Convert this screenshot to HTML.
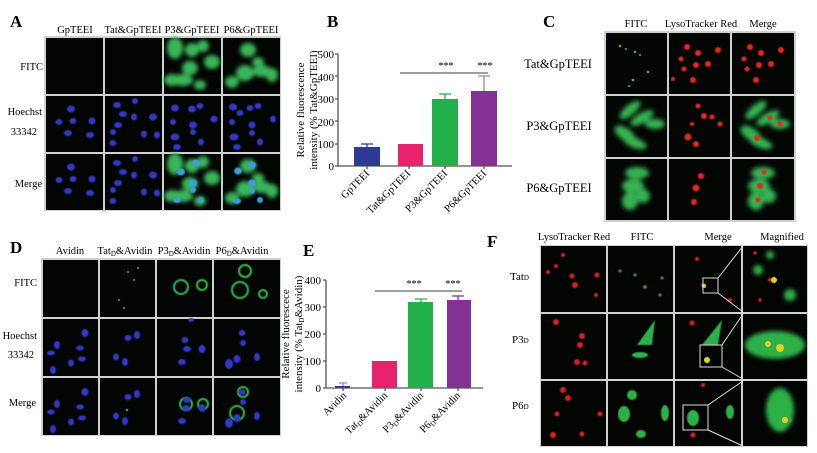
<!DOCTYPE html>
<html><head><meta charset="utf-8"><style>
html,body{margin:0;padding:0;background:#fff;}
svg{display:block;font-family:"Liberation Serif",serif;}
</style></head><body>
<svg width="817" height="453" viewBox="0 0 817 453" xmlns="http://www.w3.org/2000/svg">
<defs>
<filter id="b1" x="-30%" y="-30%" width="160%" height="160%"><feGaussianBlur stdDeviation="2"/></filter>
<filter id="b2" x="-30%" y="-30%" width="160%" height="160%"><feGaussianBlur stdDeviation="2.5"/></filter>
<filter id="b0" x="-20%" y="-20%" width="140%" height="140%"><feGaussianBlur stdDeviation="0.6"/></filter>
</defs>
<rect width="817" height="453" fill="#fff"/>

<!-- ===== Panel A ===== -->
<text x="10" y="27" font-size="17" font-weight="bold">A</text>
<g font-size="10.5" text-anchor="middle">
<text x="75" y="33">GpTEEI</text><text x="133" y="33">Tat&amp;GpTEEI</text>
<text x="192" y="33">P3&amp;GpTEEI</text><text x="251" y="33">P6&amp;GpTEEI</text>
</g>
<g font-size="10.5" text-anchor="end">
<text x="43" y="70">FITC</text><text x="42" y="115">Hoechst</text><text x="37" y="135">33342</text>
<text x="42" y="187">Merge</text>
</g>
<rect x="44" y="36" width="237" height="175" fill="#d0d0d0"/>
<g fill="#020502">
<rect x="46" y="38" width="57" height="56"/><rect x="105" y="38" width="57" height="56"/><rect x="164" y="38" width="57" height="56"/><rect x="223" y="38" width="57" height="56"/>
<rect x="46" y="96" width="57" height="56"/><rect x="105" y="96" width="57" height="56"/><rect x="164" y="96" width="57" height="56"/><rect x="223" y="96" width="57" height="56"/>
<rect x="46" y="154" width="57" height="56"/><rect x="105" y="154" width="57" height="56"/><rect x="164" y="154" width="57" height="56"/><rect x="223" y="154" width="57" height="56"/>
</g>
<g fill="#3bb55a" filter="url(#b1)">
<ellipse cx="175" cy="48" rx="8" ry="11"/><ellipse cx="192" cy="50" rx="7" ry="7"/><ellipse cx="203" cy="46" rx="6" ry="6"/>
<ellipse cx="212" cy="62" rx="8" ry="7"/><ellipse cx="190" cy="68" rx="8" ry="7"/><ellipse cx="183" cy="80" rx="10" ry="6"/><ellipse cx="172" cy="80" rx="8" ry="6"/><ellipse cx="200" cy="85" rx="6" ry="5"/>
<ellipse cx="248" cy="50" rx="8" ry="7"/><ellipse cx="258" cy="62" rx="6" ry="5"/><ellipse cx="262" cy="71" rx="9" ry="6"/><ellipse cx="245" cy="73" rx="9" ry="8"/><ellipse cx="232" cy="82" rx="7" ry="6"/><ellipse cx="272" cy="75" rx="6" ry="7"/>
<ellipse cx="175" cy="164" rx="8" ry="11"/><ellipse cx="192" cy="166" rx="7" ry="7"/><ellipse cx="203" cy="162" rx="6" ry="6"/>
<ellipse cx="212" cy="178" rx="8" ry="7"/><ellipse cx="190" cy="184" rx="8" ry="7"/><ellipse cx="183" cy="196" rx="10" ry="6"/><ellipse cx="172" cy="196" rx="8" ry="6"/><ellipse cx="200" cy="201" rx="6" ry="5"/>
<ellipse cx="248" cy="166" rx="8" ry="7"/><ellipse cx="258" cy="178" rx="6" ry="5"/><ellipse cx="262" cy="187" rx="9" ry="6"/><ellipse cx="245" cy="189" rx="9" ry="8"/><ellipse cx="232" cy="198" rx="7" ry="6"/><ellipse cx="272" cy="191" rx="6" ry="7"/>
</g>
<g fill="#3238c8" filter="url(#b0)">
<ellipse cx="71" cy="109" rx="4" ry="3.5"/><ellipse cx="59" cy="122" rx="3.5" ry="3"/><ellipse cx="73" cy="121" rx="3.5" ry="3"/><ellipse cx="68" cy="133" rx="4" ry="3"/><ellipse cx="92" cy="121" rx="3.5" ry="3.5"/><ellipse cx="90" cy="135" rx="4" ry="3"/>
<ellipse cx="117" cy="105" rx="4" ry="3"/><ellipse cx="123" cy="114" rx="4" ry="3"/><ellipse cx="135" cy="101" rx="3" ry="3"/><ellipse cx="134" cy="117" rx="3" ry="3.5"/><ellipse cx="118" cy="125" rx="4" ry="3"/><ellipse cx="113" cy="132" rx="3" ry="3"/><ellipse cx="113" cy="143" rx="3.5" ry="3"/><ellipse cx="153" cy="117" rx="4" ry="3.5"/><ellipse cx="144" cy="134" rx="3" ry="3.5"/><ellipse cx="157" cy="135" rx="3" ry="3.5"/>
<ellipse cx="175" cy="108" rx="4" ry="3.5"/><ellipse cx="192" cy="109" rx="4" ry="3.5"/><ellipse cx="200" cy="106" rx="3.5" ry="3"/><ellipse cx="173" cy="122" rx="3" ry="3"/><ellipse cx="193" cy="125" rx="4" ry="3.5"/><ellipse cx="193" cy="132" rx="3" ry="3"/><ellipse cx="214" cy="119" rx="3.5" ry="3.5"/><ellipse cx="175" cy="137" rx="4.5" ry="3.5"/><ellipse cx="201" cy="142" rx="3" ry="3.5"/><ellipse cx="177" cy="147" rx="4" ry="3"/>
<ellipse cx="233" cy="107" rx="4" ry="3.5"/><ellipse cx="240" cy="113" rx="3.5" ry="3"/><ellipse cx="250" cy="108" rx="3.5" ry="3"/><ellipse cx="258" cy="106" rx="3.5" ry="3"/><ellipse cx="232" cy="122" rx="3" ry="3"/><ellipse cx="252" cy="125" rx="3.5" ry="3.5"/><ellipse cx="252" cy="133" rx="3" ry="3"/><ellipse cx="273" cy="119" rx="3" ry="3.5"/><ellipse cx="234" cy="137" rx="4.5" ry="3.5"/><ellipse cx="260" cy="142" rx="3" ry="3.5"/><ellipse cx="237" cy="147" rx="4" ry="3"/>
<ellipse cx="71" cy="167" rx="4" ry="3.5"/><ellipse cx="59" cy="180" rx="3.5" ry="3"/><ellipse cx="73" cy="179" rx="3.5" ry="3"/><ellipse cx="68" cy="191" rx="4" ry="3"/><ellipse cx="92" cy="179" rx="3.5" ry="3.5"/><ellipse cx="90" cy="193" rx="4" ry="3"/>
<ellipse cx="117" cy="163" rx="4" ry="3"/><ellipse cx="123" cy="172" rx="4" ry="3"/><ellipse cx="135" cy="159" rx="3" ry="3"/><ellipse cx="134" cy="175" rx="3" ry="3.5"/><ellipse cx="118" cy="183" rx="4" ry="3"/><ellipse cx="113" cy="190" rx="3" ry="3"/><ellipse cx="113" cy="201" rx="3.5" ry="3"/><ellipse cx="153" cy="175" rx="4" ry="3.5"/><ellipse cx="144" cy="192" rx="3" ry="3.5"/><ellipse cx="157" cy="193" rx="3" ry="3.5"/>
</g>
<g fill="#3a9ed8" filter="url(#b0)">
<ellipse cx="181" cy="172" rx="4" ry="3.5"/><ellipse cx="196" cy="163" rx="4" ry="3.5"/><ellipse cx="193" cy="183" rx="4" ry="3.5"/><ellipse cx="193" cy="190" rx="3" ry="3"/><ellipse cx="177" cy="200" rx="4" ry="3"/><ellipse cx="201" cy="200" rx="3" ry="3"/>
<ellipse cx="238" cy="171" rx="4" ry="3.5"/><ellipse cx="252" cy="165" rx="4" ry="3.5"/><ellipse cx="252" cy="183" rx="4" ry="3.5"/><ellipse cx="252" cy="191" rx="3" ry="3"/><ellipse cx="237" cy="201" rx="4" ry="3"/><ellipse cx="260" cy="200" rx="3" ry="3"/>
</g>

<!-- ===== Panel B ===== -->
<text x="327" y="27" font-size="17" font-weight="bold">B</text>
<g font-size="11" text-anchor="middle">
<text transform="translate(304,110) rotate(-90)">Relative fluorescence</text>
<text transform="translate(317,110) rotate(-90)">intensity (% Tat&amp;GpTEEI)</text>
</g>
<g font-size="11" text-anchor="end">
<text x="334" y="58">500</text><text x="334" y="81">400</text><text x="334" y="103">300</text>
<text x="334" y="126">200</text><text x="334" y="148">100</text><text x="334" y="170">0</text>
</g>
<g stroke="#555" stroke-width="1.3" fill="none">
<path d="M338 54V166H512"/>
<path d="M335 54H338M335 76H338M335 99H338M335 121H338M335 144H338M335 166H338"/>
<path d="M367 166v3M409 166v3M445 166v3M484 166v3"/>
</g>
<rect x="354" y="147" width="26" height="19" fill="#2e3b96"/>
<rect x="398" y="144" width="25" height="22" fill="#e8226c"/>
<rect x="432" y="99" width="26" height="67" fill="#22b04a"/>
<rect x="471" y="91" width="26" height="75" fill="#843196"/>
<g stroke-width="1.3" fill="none">
<path d="M367 147V144M361 144H373" stroke="#2e3b96"/>
<path d="M445 99V94M439 94H451" stroke="#22b04a"/>
<path d="M484 91V76M478 76H490" stroke="#b07abd"/>
</g>
<path d="M400 73H488" stroke="#666" stroke-width="1.3"/>
<g font-size="10" text-anchor="middle"><text x="446" y="69">***</text><text x="485" y="69">***</text></g>
<g font-size="10.5" text-anchor="end">
<text transform="translate(370,174) rotate(-45)">GpTEEI</text>
<text transform="translate(411,174) rotate(-45)">Tat&amp;GpTEEI</text>
<text transform="translate(448,174) rotate(-45)">P3&amp;GpTEEI</text>
<text transform="translate(487,174) rotate(-45)">P6&amp;GpTEEI</text>
</g>

<!-- ===== Panel C ===== -->
<text x="543" y="27" font-size="17" font-weight="bold">C</text>
<g font-size="10.5" text-anchor="middle">
<text x="636" y="27">FITC</text><text x="701" y="27">LysoTracker Red</text><text x="763" y="27">Merge</text>
</g>
<g font-size="12.5" text-anchor="middle">
<text x="558" y="68">Tat&amp;GpTEEI</text><text x="559" y="130">P3&amp;GpTEEI</text><text x="559" y="192">P6&amp;GpTEEI</text>
</g>
<rect x="604" y="31" width="192" height="191" fill="#d0d0d0"/>
<g fill="#030603">
<rect x="606" y="33" width="61" height="61"/><rect x="669" y="33" width="61" height="61"/><rect x="732" y="33" width="62" height="61"/>
<rect x="606" y="96" width="61" height="61"/><rect x="669" y="96" width="61" height="61"/><rect x="732" y="96" width="62" height="61"/>
<rect x="606" y="159" width="61" height="61"/><rect x="669" y="159" width="61" height="61"/><rect x="732" y="159" width="62" height="61"/>
</g>
<g fill="#36b352" filter="url(#b2)">
<ellipse cx="630" cy="110" rx="13" ry="5" transform="rotate(-40 630 110)"/><ellipse cx="642" cy="118" rx="13" ry="5" transform="rotate(-30 642 118)"/><ellipse cx="655" cy="124" rx="10" ry="5"/><ellipse cx="625" cy="134" rx="12" ry="6" transform="rotate(35 625 134)"/><ellipse cx="635" cy="143" rx="12" ry="5" transform="rotate(20 635 143)"/>
<ellipse cx="637" cy="173" rx="12" ry="6"/><ellipse cx="633" cy="186" rx="11" ry="7"/><ellipse cx="630" cy="201" rx="8" ry="9"/><ellipse cx="643" cy="196" rx="7" ry="7"/>
<ellipse cx="756" cy="110" rx="13" ry="5" transform="rotate(-40 756 110)"/><ellipse cx="768" cy="118" rx="13" ry="5" transform="rotate(-30 768 118)"/><ellipse cx="780" cy="124" rx="10" ry="5"/><ellipse cx="751" cy="134" rx="12" ry="6" transform="rotate(35 751 134)"/><ellipse cx="761" cy="143" rx="12" ry="5" transform="rotate(20 761 143)"/>
<ellipse cx="763" cy="173" rx="12" ry="6"/><ellipse cx="759" cy="186" rx="11" ry="7"/><ellipse cx="756" cy="201" rx="8" ry="9"/><ellipse cx="769" cy="196" rx="7" ry="7"/>
</g>
<g fill="#2fd040">
<circle cx="620" cy="46" r="1.2"/><circle cx="626" cy="49" r="1"/><circle cx="635" cy="52" r="1.2"/><circle cx="648" cy="72" r="1.2"/><circle cx="633" cy="80" r="1.3"/><circle cx="629" cy="86" r="1"/><circle cx="640" cy="55" r="1"/>
</g>
<g fill="#e8261e" filter="url(#b0)">
<circle cx="687" cy="47" r="3"/><circle cx="698" cy="53" r="3"/><circle cx="718" cy="50" r="3"/><circle cx="681" cy="59" r="2.5"/><circle cx="696" cy="65" r="3"/><circle cx="708" cy="64" r="3"/><circle cx="684" cy="69" r="2.5"/><circle cx="693" cy="80" r="3"/><circle cx="673" cy="79" r="2"/>
<circle cx="698" cy="106" r="2.5"/><circle cx="704" cy="116" r="3"/><circle cx="712" cy="117" r="2.5"/><circle cx="720" cy="124" r="2.5"/><circle cx="688" cy="137" r="3.5"/><circle cx="696" cy="144" r="3"/><circle cx="692" cy="124" r="2"/>
<circle cx="701" cy="176" r="3"/><circle cx="696" cy="188" r="3.5"/><circle cx="694" cy="202" r="3"/>
<circle cx="750" cy="47" r="3"/><circle cx="761" cy="53" r="3"/><circle cx="781" cy="50" r="3"/><circle cx="744" cy="59" r="2.5"/><circle cx="759" cy="65" r="3"/><circle cx="771" cy="64" r="3"/><circle cx="747" cy="69" r="2.5"/><circle cx="756" cy="80" r="3"/>
<circle cx="770" cy="118" r="2.5"/><circle cx="780" cy="124" r="2.5"/><circle cx="757" cy="138" r="3"/><circle cx="764" cy="172" r="2.5"/><circle cx="760" cy="186" r="3"/><circle cx="758" cy="200" r="2.5"/>
</g>

<!-- ===== Panel D ===== -->
<text x="10" y="253" font-size="17" font-weight="bold">D</text>
<g font-size="10.5" text-anchor="middle">
<text x="70" y="254">Avidin</text><text x="125" y="254">Tat<tspan font-size="7" dy="2">D</tspan><tspan dy="-2">&amp;Avidin</tspan></text>
<text x="184" y="254">P3<tspan font-size="7" dy="2">D</tspan><tspan dy="-2">&amp;Avidin</tspan></text>
<text x="242" y="254">P6<tspan font-size="7" dy="2">D</tspan><tspan dy="-2">&amp;Avidin</tspan></text>
</g>
<g font-size="10.5" text-anchor="end">
<text x="37" y="286">FITC</text><text x="37" y="339">Hoechst</text><text x="34" y="358">33342</text><text x="36" y="406">Merge</text>
</g>
<rect x="41" y="258" width="240" height="178" fill="#d0d0d0"/>
<g fill="#020503">
<rect x="43" y="260" width="55" height="57"/><rect x="100" y="260" width="55" height="57"/><rect x="157" y="260" width="55" height="57"/><rect x="214" y="260" width="66" height="57"/>
<rect x="43" y="319" width="55" height="57"/><rect x="100" y="319" width="55" height="57"/><rect x="157" y="319" width="55" height="57"/><rect x="214" y="319" width="66" height="57"/>
<rect x="43" y="378" width="55" height="57"/><rect x="100" y="378" width="55" height="57"/><rect x="157" y="378" width="55" height="57"/><rect x="214" y="378" width="66" height="57"/>
</g>
<g fill="none" stroke="#2fc04a" stroke-width="2" filter="url(#b0)">
<circle cx="181" cy="287" r="7"/><circle cx="202" cy="285" r="5"/><circle cx="240" cy="290" r="8"/><circle cx="245" cy="271" r="6"/><circle cx="263" cy="294" r="4"/>
<circle cx="186" cy="404" r="6"/><circle cx="203" cy="404" r="5"/><circle cx="237" cy="413" r="7"/><circle cx="243" cy="392" r="5"/>
</g>
<g fill="#2fc04a"><circle cx="128" cy="272" r="1"/><circle cx="134" cy="280" r="1"/><circle cx="138" cy="268" r="1"/><circle cx="119" cy="300" r="1"/><circle cx="124" cy="308" r="1"/><circle cx="136" cy="394" r="1.2"/><circle cx="127" cy="410" r="1.2"/></g>
<g fill="#3238c8" filter="url(#b0)">
<ellipse cx="85" cy="333" rx="3.5" ry="4"/><ellipse cx="57" cy="345" rx="3" ry="4"/><ellipse cx="80" cy="348" rx="4" ry="2.5"/><ellipse cx="51" cy="353" rx="4" ry="2.5"/><ellipse cx="82" cy="359" rx="4" ry="2.5"/><ellipse cx="71" cy="363" rx="3" ry="3.5"/><ellipse cx="53" cy="370" rx="3" ry="4"/>
<ellipse cx="128" cy="338" rx="3.5" ry="3"/><ellipse cx="137" cy="335" rx="3" ry="4"/><ellipse cx="116" cy="357" rx="3" ry="3.5"/><ellipse cx="125" cy="362" rx="3" ry="4"/>
<ellipse cx="191" cy="320" rx="3" ry="2"/><ellipse cx="185" cy="340" rx="3.5" ry="3"/><ellipse cx="187" cy="349" rx="4" ry="3"/><ellipse cx="202" cy="349" rx="3.5" ry="4"/><ellipse cx="182" cy="362" rx="4" ry="3"/>
<ellipse cx="242" cy="333" rx="3.5" ry="3"/><ellipse cx="243" cy="343" rx="3" ry="3"/><ellipse cx="237" cy="359" rx="3.5" ry="4"/><ellipse cx="229" cy="364" rx="4" ry="5"/><ellipse cx="257" cy="357" rx="3" ry="4"/>
<ellipse cx="85" cy="392" rx="3.5" ry="4"/><ellipse cx="57" cy="404" rx="3" ry="4"/><ellipse cx="80" cy="407" rx="4" ry="2.5"/><ellipse cx="51" cy="412" rx="4" ry="2.5"/><ellipse cx="82" cy="418" rx="4" ry="2.5"/><ellipse cx="71" cy="422" rx="3" ry="3.5"/><ellipse cx="53" cy="429" rx="3" ry="4"/>
<ellipse cx="128" cy="397" rx="3.5" ry="3"/><ellipse cx="137" cy="394" rx="3" ry="4"/><ellipse cx="116" cy="416" rx="3" ry="3.5"/><ellipse cx="125" cy="421" rx="3" ry="4"/>
<ellipse cx="187" cy="400" rx="4" ry="3"/><ellipse cx="186" cy="408" rx="4" ry="3"/><ellipse cx="202" cy="408" rx="3.5" ry="4"/><ellipse cx="182" cy="421" rx="4" ry="3"/>
<ellipse cx="242" cy="392" rx="3.5" ry="3"/><ellipse cx="243" cy="402" rx="3" ry="3"/><ellipse cx="237" cy="418" rx="3.5" ry="4"/><ellipse cx="229" cy="423" rx="4" ry="5"/><ellipse cx="257" cy="416" rx="3" ry="4"/>
</g>

<!-- ===== Panel E ===== -->
<text x="303" y="256" font-size="17" font-weight="bold">E</text>
<g font-size="11" text-anchor="middle">
<text transform="translate(289,334) rotate(-90)">Relative fluorescece</text>
<text transform="translate(302,334) rotate(-90)">intensity (% Tat<tspan font-size="7" dy="2">D</tspan><tspan dy="-2">&amp;Avidin)</tspan></text>
</g>
<g font-size="11" text-anchor="end">
<text x="321" y="284">400</text><text x="321" y="311">300</text><text x="321" y="338">200</text><text x="321" y="365">100</text><text x="321" y="392">0</text>
</g>
<g stroke="#555" stroke-width="1.3" fill="none">
<path d="M326 280V388H483"/>
<path d="M323 280H326M323 307H326M323 334H326M323 361H326M323 388H326"/>
<path d="M343 388v3M385 388v3M421 388v3M458 388v3"/>
</g>
<rect x="335" y="386" width="15" height="2" fill="#2e3b96"/>
<path d="M343 386v-3M339 383h8" stroke="#8a90d0" stroke-width="1.3"/>
<rect x="372" y="361" width="25" height="27" fill="#e8226c"/>
<rect x="408" y="302" width="25" height="86" fill="#22b04a"/>
<rect x="447" y="300" width="24" height="88" fill="#843196"/>
<path d="M421 302v-3M415 299h12" stroke="#22b04a" stroke-width="1.3"/>
<path d="M458 300v-4M452 296h12" stroke="#843196" stroke-width="1.3"/>
<path d="M375 291H462" stroke="#666" stroke-width="1.3"/>
<g font-size="10" text-anchor="middle"><text x="414" y="287">***</text><text x="453" y="287">***</text></g>
<g font-size="10.5" text-anchor="end">
<text transform="translate(347,396) rotate(-45)">Avidin</text>
<text transform="translate(388,396) rotate(-45)">Tat<tspan font-size="7" dy="2">D</tspan><tspan dy="-2">&amp;Avidin</tspan></text>
<text transform="translate(424,396) rotate(-45)">P3<tspan font-size="7" dy="2">D</tspan><tspan dy="-2">&amp;Avidin</tspan></text>
<text transform="translate(461,396) rotate(-45)">P6<tspan font-size="7" dy="2">D</tspan><tspan dy="-2">&amp;Avidin</tspan></text>
</g>

<!-- ===== Panel F ===== -->
<text x="487" y="247" font-size="17" font-weight="bold">F</text>
<g font-size="10.5" text-anchor="middle">
<text x="574" y="240">LysoTracker Red</text><text x="642" y="240">FITC</text><text x="718" y="240">Merge</text><text x="782" y="240">Magnified</text>
</g>
<g font-size="11">
<text x="510" y="280">Tat<tspan font-size="7">D</tspan></text>
<text x="512" y="343">P3<tspan font-size="7">D</tspan></text>
<text x="512" y="409">P6<tspan font-size="7">D</tspan></text>
</g>
<rect x="540" y="245" width="268" height="202" fill="#d0d0d0"/>
<g fill="#030503">
<rect x="541" y="246" width="65" height="66"/><rect x="608" y="246" width="65" height="66"/><rect x="675" y="246" width="66" height="66"/><rect x="743" y="246" width="64" height="66"/>
<rect x="541" y="314" width="65" height="65"/><rect x="608" y="314" width="65" height="65"/><rect x="675" y="314" width="66" height="65"/><rect x="743" y="314" width="64" height="65"/>
<rect x="541" y="381" width="65" height="65"/><rect x="608" y="381" width="65" height="65"/><rect x="675" y="381" width="66" height="65"/><rect x="743" y="381" width="64" height="65"/>
</g>
<g fill="#d82020" filter="url(#b0)">
<circle cx="563" cy="255" r="2"/><circle cx="556" cy="266" r="2"/><circle cx="548" cy="272" r="2"/><circle cx="572" cy="276" r="2.5"/><circle cx="575" cy="285" r="3"/><circle cx="597" cy="275" r="2.5"/><circle cx="596" cy="295" r="2"/>
<circle cx="556" cy="322" r="3"/><circle cx="582" cy="336" r="3"/><circle cx="580" cy="345" r="3"/><circle cx="577" cy="362" r="3"/><circle cx="585" cy="363" r="2.5"/>
<circle cx="563" cy="390" r="3"/><circle cx="568" cy="398" r="3"/><circle cx="557" cy="414" r="2.5"/><circle cx="600" cy="414" r="2.5"/><circle cx="582" cy="434" r="2.5"/><circle cx="553" cy="435" r="3"/>
<circle cx="697" cy="259" r="2"/><circle cx="703" cy="285" r="2"/><circle cx="730" cy="300" r="2"/><circle cx="692" cy="323" r="2.5"/><circle cx="703" cy="385" r="2"/><circle cx="693" cy="435" r="2.5"/>
<circle cx="755" cy="253" r="1.8"/><circle cx="770" cy="280" r="2"/><circle cx="760" cy="300" r="1.8"/><circle cx="785" cy="340" r="2"/><circle cx="770" cy="350" r="2"/><circle cx="770" cy="405" r="2"/><circle cx="790" cy="420" r="2"/>
</g>
<g fill="#2fb04a" filter="url(#b0)">
<circle cx="620" cy="271" r="1.5"/><circle cx="635" cy="275" r="1.5"/><circle cx="645" cy="287" r="1.8"/><circle cx="662" cy="278" r="1.5"/><circle cx="660" cy="295" r="1.5"/>
<path d="M637 345 L655 320 L652 345 Z"/><ellipse cx="640" cy="355" rx="8" ry="3"/>
<ellipse cx="632" cy="395" rx="5" ry="5"/><ellipse cx="624" cy="414" rx="6" ry="8"/><ellipse cx="665" cy="413" rx="4" ry="8"/><ellipse cx="641" cy="434" rx="5" ry="4"/>
<path d="M702 345 L722 320 L718 345 Z"/><ellipse cx="693" cy="418" rx="6" ry="8"/><ellipse cx="730" cy="412" rx="4" ry="7"/>
</g>
<g fill="#2fb04a" filter="url(#b1)">
<ellipse cx="775" cy="345" rx="30" ry="14"/><ellipse cx="780" cy="410" rx="14" ry="22"/><circle cx="758" cy="270" r="5"/><circle cx="790" cy="295" r="6"/><circle cx="770" cy="255" r="4"/>
</g>
<g fill="#e0d020"><circle cx="774" cy="280" r="3"/><circle cx="780" cy="348" r="4"/><circle cx="768" cy="344" r="3"/><circle cx="785" cy="420" r="3"/><circle cx="704" cy="286" r="2"/><circle cx="707" cy="360" r="3"/></g>
<g fill="none" stroke="#ddd" stroke-width="1">
<rect x="703" y="278" width="15" height="15"/><rect x="700" y="345" width="22" height="22"/><rect x="683" y="405" width="25" height="25"/>
<path d="M718 278 L743 246 M718 293 L743 312 M722 345 L743 314 M722 367 L743 379 M708 405 L743 381 M708 430 L743 446"/>
</g>
</svg>
</body></html>
